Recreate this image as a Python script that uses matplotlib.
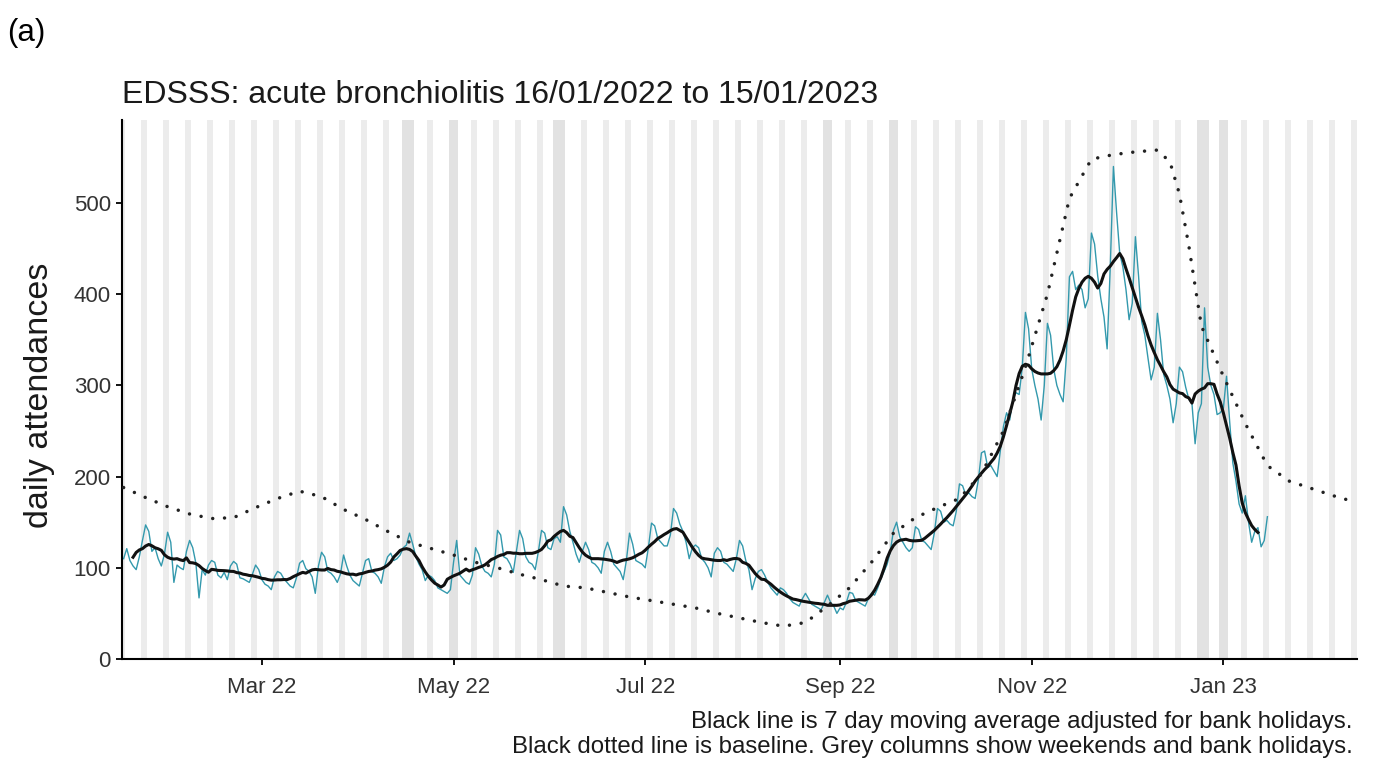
import numpy as np
import pandas as pd
import matplotlib
matplotlib.use("Agg")
import matplotlib.pyplot as plt
import matplotlib.dates as mdates

plt.rcParams['font.family'] = ['Liberation Sans', 'DejaVu Sans']

# daily attendances, one row per week (Sun..Sat), starting Sun 16/01/2022
daily_counts = [
    110, 121, 108, 102, 98, 112, 130,
    147, 140, 118, 122, 110, 102, 115,
    139, 128, 84, 103, 100, 98, 118,
    130, 122, 105, 67, 98, 92, 103,
    108, 106, 92, 89, 95, 87, 102,
    107, 104, 89, 88, 86, 84, 93,
    103, 98, 87, 82, 80, 76, 90,
    96, 94, 88, 84, 80, 78, 89,
    105, 108, 99, 96, 90, 72, 102,
    117, 112, 96, 94, 90, 84, 93,
    114, 102, 92, 86, 83, 80, 94,
    108, 110, 96, 94, 90, 83, 101,
    112, 116, 108, 110, 114, 122, 125,
    138, 126, 112, 104, 98, 86, 92,
    90, 86, 78, 76, 74, 72, 76,
    106, 130, 92, 88, 84, 82, 92,
    122, 115, 102, 96, 94, 90, 104,
    141, 136, 112, 110, 104, 95, 118,
    141, 132, 112, 106, 104, 98, 118,
    141, 138, 122, 120, 132, 134, 128,
    167, 158, 140, 128, 115, 106, 118,
    128, 120, 106, 104, 100, 94, 118,
    128, 118, 104, 100, 96, 87, 108,
    138, 126, 108, 106, 104, 100, 122,
    149, 146, 132, 128, 124, 124, 136,
    165, 160, 148, 140, 128, 110, 122,
    125, 122, 110, 106, 100, 90, 116,
    122, 118, 106, 104, 100, 96, 110,
    130, 124, 108, 98, 76, 88, 96,
    98, 92, 84, 78, 74, 70, 78,
    76, 72, 66, 62, 60, 58, 66,
    72, 66, 60, 58, 56, 54, 62,
    70, 62, 58, 50, 56, 54, 62,
    73, 72, 64, 62, 60, 58, 66,
    72, 70, 78, 88, 96, 104, 118,
    141, 150, 134, 128, 122, 118, 122,
    145, 142, 130, 128, 124, 120, 138,
    165, 162, 150, 152, 148, 146, 162,
    192, 190, 180, 182, 178, 176, 196,
    226, 228, 210, 212, 206, 200, 228,
    255, 270, 262, 285, 292, 290, 320,
    380, 362, 318, 300, 285, 262, 300,
    368, 355, 318, 300, 290, 282, 330,
    419, 425, 405, 410, 405, 385, 395,
    467, 455, 420, 395, 375, 340, 430,
    540, 490, 445, 430, 405, 372, 390,
    463, 420, 370, 355, 330, 306, 320,
    379, 350, 312, 300, 285, 259, 280,
    320, 315, 298, 285, 280, 236, 270,
    280, 385, 320, 300, 290, 268, 270,
    275, 310, 260, 215, 195, 170, 160,
    179, 150, 128, 140, 144, 123, 130,
    156,
]

baseline_dates = [
    '2022-01-16', '2022-01-23', '2022-01-30', '2022-02-06', '2022-02-13',
    '2022-02-20', '2022-02-27', '2022-03-06', '2022-03-13', '2022-03-20',
    '2022-03-27', '2022-04-03', '2022-04-10', '2022-04-17', '2022-04-24',
    '2022-05-01', '2022-05-08', '2022-05-15', '2022-05-22', '2022-05-29',
    '2022-06-05', '2022-06-12', '2022-06-19', '2022-06-26', '2022-07-03',
    '2022-07-10', '2022-07-17', '2022-07-24', '2022-07-31', '2022-08-07',
    '2022-08-14', '2022-08-21', '2022-08-28', '2022-09-04', '2022-09-11',
    '2022-09-18', '2022-09-25', '2022-10-02', '2022-10-09', '2022-10-16',
    '2022-10-23', '2022-10-30', '2022-11-06', '2022-11-13', '2022-11-20',
    '2022-11-27', '2022-12-04', '2022-12-11', '2022-12-15', '2022-12-18',
    '2022-12-21', '2022-12-25', '2023-01-01', '2023-01-08', '2023-01-15',
    '2023-01-22', '2023-01-29', '2023-02-05', '2023-02-10',
]
baseline_values = [
    188, 177, 167, 159, 154,
    155, 166, 176, 184, 178,
    164, 153, 140, 128, 121,
    114, 106, 100, 93, 87,
    80, 78, 73, 68, 64,
    60, 56, 50, 45, 40,
    36, 40, 58, 78, 106,
    138, 155, 166, 176, 203,
    250, 320, 400, 505, 548,
    553, 556, 558, 545, 510,
    453, 365, 310, 258, 212,
    195, 187, 179, 174,
]

bank_holidays = ['2022-04-15', '2022-04-18', '2022-05-02', '2022-06-02',
                 '2022-06-03', '2022-08-29', '2022-09-19', '2022-12-26',
                 '2022-12-27', '2023-01-02']

dates = pd.date_range('2022-01-16', periods=len(daily_counts), freq='D')
counts = pd.Series(daily_counts, index=dates, dtype=float)
ma7 = counts.rolling(7, center=True).mean()
bl_dates = pd.to_datetime(baseline_dates)

x_start = pd.Timestamp('2022-01-15 12:00')
x_end = pd.Timestamp('2023-02-12 12:00')

fig = plt.figure(figsize=(13.79, 7.67), dpi=100)
ax = fig.add_axes([0.0885, 0.1408, 0.8955, 0.7028])

# grey columns: weekends and bank holidays, blocks with a bank holiday a bit darker
all_days = pd.date_range('2022-01-15', '2023-02-13', freq='D')
bh = set(pd.to_datetime(bank_holidays))
off = [d for d in all_days if d.dayofweek >= 5 or d in bh]
blocks = []
for d in off:
    if blocks and (d - blocks[-1][-1]).days == 1:
        blocks[-1].append(d)
    else:
        blocks.append([d])
for b in blocks:
    col = '#e2e2e2' if any(d in bh for d in b) else '#ececec'
    ax.axvspan(b[0] - pd.Timedelta(hours=12), b[-1] + pd.Timedelta(hours=12),
               color=col, lw=0, zorder=0)

ax.plot(dates, counts.values, color='#3399ad', lw=1.0, zorder=2)
ax.plot(dates, ma7.values, color='#111111', lw=2.2, zorder=3)
ax.plot(bl_dates, baseline_values, color='#222222', lw=2.5,
        linestyle=(0, (0.01, 3.4)), dash_capstyle='round', zorder=3)

ax.set_xlim(x_start, x_end)
ax.set_ylim(0, 591)
ax.set_yticks([0, 100, 200, 300, 400, 500])
ax.xaxis.set_major_locator(mdates.MonthLocator(bymonth=[1, 3, 5, 7, 9, 11]))
ax.xaxis.set_major_formatter(mdates.DateFormatter('%b %y'))

for s in ['top', 'right']:
    ax.spines[s].set_visible(False)
for s in ['left', 'bottom']:
    ax.spines[s].set_linewidth(1.5)
    ax.spines[s].set_color('black')
ax.tick_params(axis='both', length=4, width=1.3, labelsize=16, colors='black',
               labelcolor='#333333')
ax.tick_params(axis='x', pad=9)
ax.tick_params(axis='y', pad=4)

fig.text(0.029, 0.485, 'daily attendances', rotation=90, fontsize=24.5,
         ha='center', va='center', color='#1a1a1a')
fig.text(0.0885, 0.876, 'EDSSS: acute bronchiolitis 16/01/2022 to 15/01/2023',
         fontsize=23, ha='left', va='center', color='#1a1a1a')
fig.text(0.005, 0.957, '(a)', fontsize=22.5, ha='left', va='center', color='black')
fig.text(0.981, 0.0587, 'Black line is 7 day moving average adjusted for bank holidays.',
         fontsize=17.3, ha='right', va='center', color='#1a1a1a')
fig.text(0.981, 0.026,
         'Black dotted line is baseline. Grey columns show weekends and bank holidays.',
         fontsize=17.3, ha='right', va='center', color='#1a1a1a')

fig.savefig('out.png', dpi=100)
